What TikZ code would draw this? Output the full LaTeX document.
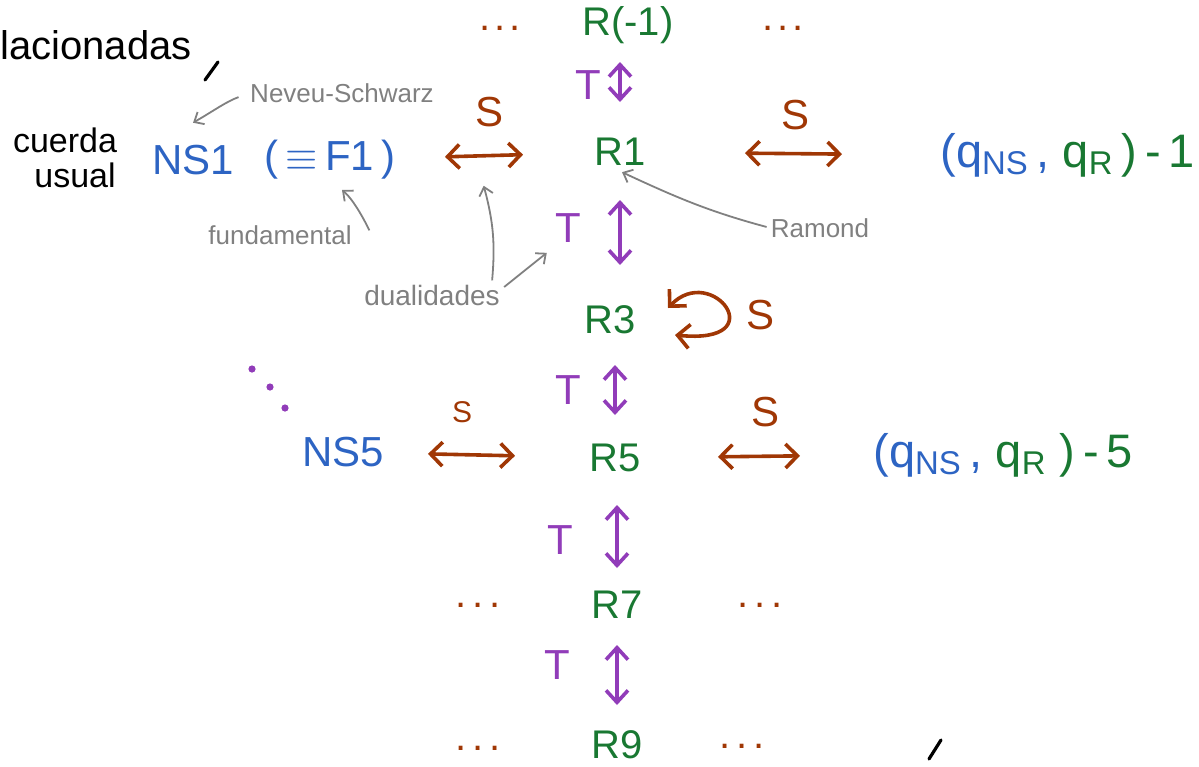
\documentclass[tikz,border=0pt]{standalone}
\usepackage{fontspec}
\setmainfont{Liberation Sans}
\usetikzlibrary{arrows.meta,calc}
\definecolor{nsblue}{RGB}{45,100,195}
\definecolor{rgreen}{RGB}{25,120,50}
\definecolor{sbrown}{RGB}{160,55,5}
\definecolor{tpurple}{RGB}{145,60,185}
\definecolor{notegray}{RGB}{128,128,128}

\begin{document}
\begin{tikzpicture}[x=0.5pt,y=-0.5pt,
  lbl/.style={inner sep=0pt, font=\fontsize{20}{24}\selectfont},
  rnode/.style={lbl, text=rgreen},
  nsnode/.style={lbl, text=nsblue, font=\fontsize{21}{25}\selectfont},
  qnode/.style={lbl, font=\fontsize{23.5}{28}\selectfont},
  tlabel/.style={lbl, text=tpurple, font=\fontsize{21}{25}\selectfont},
  slabel/.style={lbl, text=sbrown, font=\fontsize{21}{25}\selectfont},
  dots/.style={lbl, text=sbrown},
  note/.style={inner sep=0pt, text=notegray, font=\fontsize{13}{15}\selectfont},
  hand/.style={inner sep=0pt, text=black, font=\fontsize{17}{19}\selectfont},
  tarr/.style={draw=tpurple, line width=1.8pt,
    {Straight Barb[length=6pt,width=11pt]}-{Straight Barb[length=6pt,width=11pt]}},
  sarr/.style={draw=sbrown, line width=1.8pt,
    {Straight Barb[length=6pt,width=12pt]}-{Straight Barb[length=6pt,width=12pt]}},
  notearr/.style={draw=notegray, line width=0.9pt, -{Straight Barb[length=4pt,width=7pt]}},
  stroke/.style={line width=1.6pt, line cap=round}
]
\useasboundingbox (0,0) rectangle (1199,766);

% the R column
\node[rnode] (rm1) at (628,25) {R(-1)};
\node[rnode] (r1) at (620,152) {R1};
\node[rnode] (r3) at (610,320) {R3};
\node[rnode] (r5) at (615,458) {R5};
\node[rnode] (r7) at (617,605) {R7};
\node[rnode] (r9) at (617,745) {R9};

% continuation dots
\node[dots] (dtl) at (500,28) {.\hspace{2pt}.\hspace{2pt}.};
\node[dots] (dtr) at (783,28) {.\hspace{2pt}.\hspace{2pt}.};
\node[dots] (d7l) at (478,605) {.\hspace{3pt}.\hspace{3pt}.};
\node[dots] (d7r) at (760,605) {.\hspace{3pt}.\hspace{3pt}.};
\node[dots] (d9l) at (478,748) {.\hspace{3pt}.\hspace{3pt}.};
\node[dots] (d9r) at (742,746) {.\hspace{3pt}.\hspace{3pt}.};
\fill[tpurple] (252,369) circle[radius=1.8pt];
\fill[tpurple] (270,387) circle[radius=1.8pt];
\fill[tpurple] (285,408) circle[radius=1.8pt];

% NS side and pairs
\node[nsnode] (ns1) at (193,160) {NS1};
\node[nsnode] (f1) at (330,160) {(\,$\equiv$\,F1\,)};
\node[nsnode] (ns5) at (343,452) {NS5};
\node[qnode, anchor=west] (qq1) at (940,155)
  {\textcolor{nsblue}{(q\textsubscript{NS}\,,} \textcolor{rgreen}{q\textsubscript{R}\,)\,-\,1}};
\node[qnode, anchor=west] (qq5) at (873,455)
  {\textcolor{nsblue}{(q\textsubscript{NS}\,,} \textcolor{rgreen}{q\textsubscript{R}\;)\,-\,5}};

% T labels and T arrows
\node[tlabel] (t1) at (588,85) {T};
\node[tlabel] (t2) at (568,228) {T};
\node[tlabel] (t3) at (568,390) {T};
\node[tlabel] (t4) at (560,540) {T};
\node[tlabel] (t5) at (557,665) {T};
\draw[tarr, shorten <=18.5pt, shorten >=25pt] (r1.center |- rm1.center) -- (r1.center);
\draw[tarr, shorten <=24pt, shorten >=27.5pt] (r1.center) -- (r1.center |- r3.center);
\draw[tarr, shorten <=22.5pt, shorten >=21.5pt] (r5.center |- r3.center) -- (r5.center);
\draw[tarr, shorten <=23.5pt, shorten >=18.5pt] (r7.center |- r5.center) -- (r7.center);
\draw[tarr, shorten <=20pt, shorten >=20pt] (r9.center |- r7.center) -- (r9.center);

% S labels and S arrows
\node[slabel] (s1) at (490,112) {S};
\node[slabel] (s2) at (795,115) {S};
\node[slabel] (s3) at (760,315) {S};
\node[slabel, font=\fontsize{15}{18}\selectfont] (s4) at (462,412) {S};
\node[slabel] (s5) at (765,412) {S};
\draw[sarr, shorten <=57.5pt, shorten >=48.5pt] (f1.center) -- (r1.center)
  coordinate[pos=0.53] (s1mid);
\draw[sarr, shorten <=62.5pt, shorten >=49pt] (r1.center) -- (qq1.west);
\draw[sarr, shorten <=42.5pt, shorten >=50pt] (ns5.center) -- (r5.center);
\draw[sarr, shorten <=51.5pt, shorten >=36.5pt] (r5.center) -- (qq5.west);
\draw[sarr] ($(r3)+(58,-12)$) .. controls ($(r3)+(102,-58)$) and ($(r3)+(165,25)$) .. ($(r3)+(65,15)$);

% grey remarks
\node[note] (nsw) at (342,93) {Neveu-Schwarz};
\node[note] (fund) at (280,235) {fundamental};
\node[note, font=\fontsize{14}{16}\selectfont] (dual) at (432,295) {dualidades};
\node[note] (ram) at (820,228) {Ramond};
\draw[notearr, shorten <=6pt] (nsw.west) to[out=200, in=30] ([yshift=11pt]ns1.north);
\draw[notearr, shorten <=9pt] (fund.east) to[out=15, in=-40] ([shift={(6pt,-5pt)}]f1.south);
\draw[notearr] ([shift={(-4pt,2pt)}]dual.north east) to[out=85, in=-75] ([yshift=-15pt]s1mid);
\draw[notearr] ([shift={(2pt,4pt)}]dual.east) -- ([shift={(-4pt,-5pt)}]t2.south west);
\draw[notearr, shorten <=2pt] (ram.west) to[out=165, in=-25] ([shift={(1pt,-3pt)}]r1.south);

% black handwriting
\node[hand, anchor=west, font=\fontsize{20}{24}\selectfont] (rel) at (0,45) {lacionadas};
\draw[stroke] (205,80) -- (218,62);
\node[hand] (cu) at (65,140) {cuerda};
\node[hand] (us) at (75,175) {usual};
\draw[stroke] (929,759) -- (941,740);
\end{tikzpicture}
\end{document}
